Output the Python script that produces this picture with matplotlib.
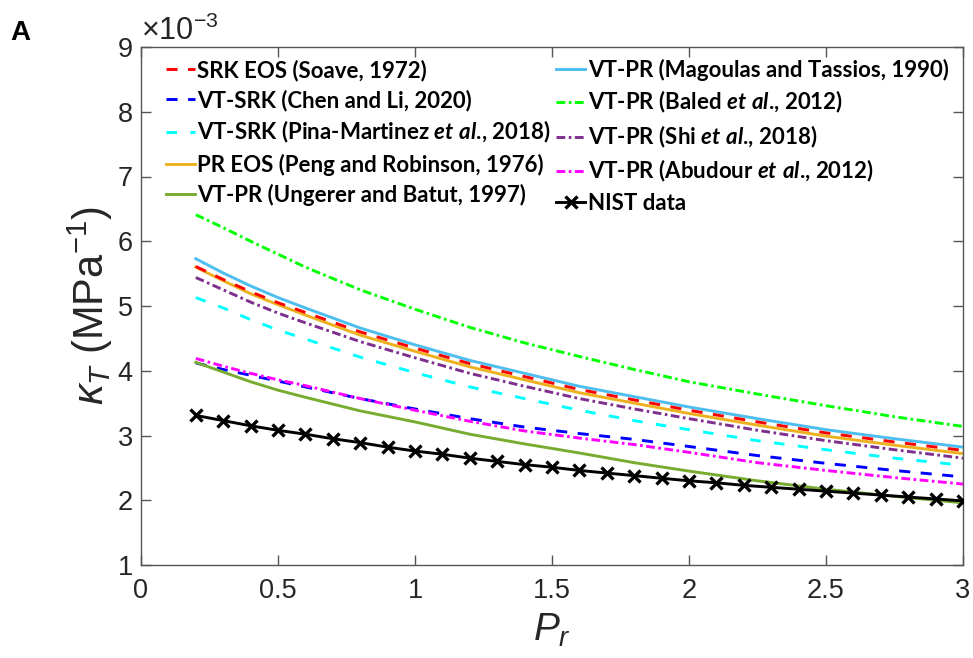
import matplotlib
matplotlib.use("Agg")
import matplotlib.pyplot as plt

plt.rcParams['mathtext.fontset'] = 'custom'
plt.rcParams['mathtext.rm'] = 'Liberation Sans'
plt.rcParams['mathtext.it'] = 'Liberation Sans:italic'
plt.rcParams['mathtext.bf'] = 'Lato:bold'
plt.rcParams['mathtext.bfit'] = 'Lato:italic:bold'
plt.rcParams['font.family'] = ['Liberation Sans', 'DejaVu Sans']

# ---------------- data (kappa_T in 1e-3 MPa^-1) ----------------
pr_model = [0.2, 0.3, 0.4, 0.5, 0.6, 0.8, 1.0, 1.2, 1.4, 1.6, 1.8, 2.0, 2.25, 2.5, 2.75, 3.0]

srk_soave   = [5.61, 5.41, 5.22, 5.05, 4.90, 4.60, 4.35, 4.11, 3.91, 3.71, 3.55, 3.39, 3.21, 3.04, 2.90, 2.77]
vtsrk_chen  = [4.12, 4.02, 3.93, 3.84, 3.75, 3.57, 3.41, 3.26, 3.13, 3.03, 2.94, 2.83, 2.69, 2.57, 2.46, 2.36]
vtsrk_pina  = [5.13, 4.97, 4.79, 4.63, 4.49, 4.21, 3.97, 3.75, 3.57, 3.39, 3.23, 3.09, 2.92, 2.78, 2.65, 2.54]
pr_peng     = [5.60, 5.39, 5.19, 5.02, 4.86, 4.55, 4.30, 4.06, 3.86, 3.66, 3.50, 3.34, 3.16, 2.99, 2.85, 2.72]
vtpr_ung    = [4.13, 3.98, 3.83, 3.70, 3.59, 3.38, 3.21, 3.02, 2.87, 2.73, 2.58, 2.45, 2.30, 2.17, 2.06, 1.96]
vtpr_mag    = [5.73, 5.51, 5.31, 5.13, 4.97, 4.66, 4.40, 4.16, 3.96, 3.76, 3.60, 3.44, 3.26, 3.09, 2.95, 2.82]
vtpr_baled  = [6.41, 6.21, 6.00, 5.80, 5.60, 5.25, 4.95, 4.67, 4.43, 4.22, 4.02, 3.83, 3.64, 3.46, 3.29, 3.14]
vtpr_shi    = [5.44, 5.25, 5.06, 4.89, 4.74, 4.45, 4.20, 3.96, 3.76, 3.57, 3.41, 3.26, 3.08, 2.92, 2.78, 2.65]
vtpr_abud   = [4.19, 4.07, 3.96, 3.86, 3.77, 3.57, 3.39, 3.22, 3.07, 2.96, 2.86, 2.74, 2.58, 2.46, 2.35, 2.25]

pr_nist = [0.2, 0.3, 0.4, 0.5, 0.6, 0.7, 0.8, 0.9, 1.0, 1.1, 1.2, 1.3, 1.4, 1.5, 1.6, 1.7,
           1.8, 1.9, 2.0, 2.1, 2.2, 2.3, 2.4, 2.5, 2.6, 2.7, 2.8, 2.9, 3.0]
nist = [3.31, 3.23, 3.15, 3.08, 3.02, 2.95, 2.89, 2.82, 2.76, 2.71, 2.65, 2.60, 2.55, 2.51, 2.46,
        2.42, 2.38, 2.34, 2.30, 2.27, 2.23, 2.20, 2.17, 2.14, 2.11, 2.08, 2.05, 2.02, 1.99]

labels = [
    'SRK EOS (Soave, 1972)',
    'VT-SRK (Chen and Li, 2020)',
    r'VT-SRK (Pina-Martinez $\mathbfit{et\ al}$., 2018)',
    'PR EOS (Peng and Robinson, 1976)',
    'VT-PR (Ungerer and Batut, 1997)',
    'VT-PR (Magoulas and Tassios, 1990)',
    r'VT-PR (Baled $\mathbfit{et\ al}$., 2012)',
    r'VT-PR (Shi $\mathbfit{et\ al}$., 2018)',
    r'VT-PR (Abudour $\mathbfit{et\ al}$., 2012)',
    'NIST data',
]
xticks = [0, 0.5, 1, 1.5, 2, 2.5, 3]
yticks = [1, 2, 3, 4, 5, 6, 7, 8, 9]

# ---------------- figure ----------------
fig = plt.figure(figsize=(9.73, 6.58), dpi=100)
ax = fig.add_axes([141/973, 1-565/658, (963-141)/973, (565-47)/658])

lw = 2.1
dash = (3.8, 3.6)
dashdot = (3.0, 1.2, 0.9, 1.2)

h = []
h += ax.plot(pr_model, srk_soave, color='#FF0000', lw=lw, ls=(0, dash), zorder=4)
h += ax.plot(pr_model, vtsrk_chen, color='#0000FF', lw=lw, ls=(0, dash), zorder=2)
h += ax.plot(pr_model, vtsrk_pina, color='#00FFFF', lw=lw, ls=(0, (3.6, 4.6)), zorder=2)
h += ax.plot(pr_model, pr_peng, color='#EDB120', lw=lw, ls='-', zorder=2)
h += ax.plot(pr_model, vtpr_ung, color='#77AC30', lw=lw, ls='-', zorder=2)
h += ax.plot(pr_model, vtpr_mag, color='#4DBEEE', lw=lw, ls='-', zorder=2)
h += ax.plot(pr_model, vtpr_baled, color='#00FF00', lw=lw, ls=(0, dashdot), zorder=2)
h += ax.plot(pr_model, vtpr_shi, color='#7E2F8E', lw=lw, ls=(0, dashdot), zorder=2)
h += ax.plot(pr_model, vtpr_abud, color='#FF00FF', lw=lw, ls=(0, dashdot), zorder=3)
h += ax.plot(pr_nist, nist, color='black', lw=lw, ls='-', marker='x', ms=9, mew=2.4, zorder=5)

ax.set_xlim(0, 3)
ax.set_ylim(1, 9)
ax.set_xticks(xticks)
ax.set_xticklabels([('%g' % t) for t in xticks])
ax.set_yticks(yticks)
ax.set_yticklabels([('%g' % t) for t in yticks])

axcol = '#262626'
for s in ax.spines.values():
    s.set_color('#555555')
    s.set_linewidth(1.0)
ax.tick_params(axis='both', which='major', direction='in', length=7, width=1.0,
               colors='#555555', labelcolor=axcol, labelsize=19.5,
               top=True, right=True)
ax.tick_params(axis='x', pad=9)
ax.tick_params(axis='y', pad=6)

ax.set_xlabel(r'$P_r$', fontsize=28, color=axcol, labelpad=6)
ax.set_ylabel(r'$\kappa_T$ (MPa$^{-1}$)', fontsize=30, color=axcol, labelpad=2)

ax.text(0.0, 1.0, r'$\times10^{-3}$', transform=ax.transAxes, fontsize=22,
        color=axcol, ha='left', va='bottom')
fig.text(0.011, 0.95, 'A', fontsize=20, fontweight='bold', family='Liberation Sans',
         ha='left', va='center')

leg = ax.legend(h, labels, ncol=2, loc='upper left', bbox_to_anchor=(0.03, 0.977),
                frameon=False, prop={'family': 'Lato', 'weight': 'bold', 'size': 16},
                handlelength=1.3, handletextpad=0.12, columnspacing=0.25,
                labelspacing=0.37, borderpad=0, borderaxespad=0)

fig.savefig('out.png', dpi=100)
